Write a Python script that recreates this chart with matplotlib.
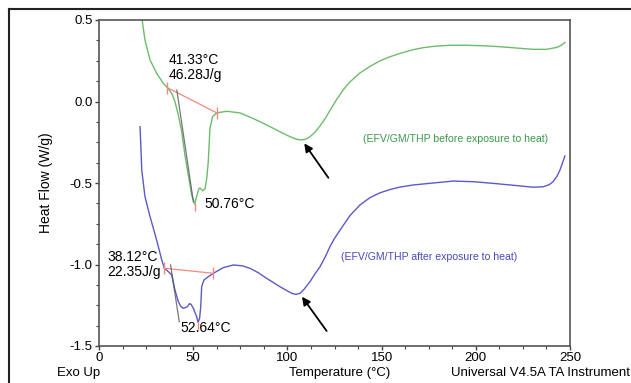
import matplotlib
matplotlib.use("Agg")
import matplotlib.pyplot as plt
from matplotlib.lines import Line2D

plt.rcParams['font.family'] = ['Liberation Sans', 'DejaVu Sans']

# ---- data ----
temp_before = [22.9, 24.4, 27.1, 30.6, 34.1, 36.3, 38.6, 40.3, 42.1, 43.9, 45.6, 47.4, 49.2,
               50.8, 51.8, 53.0, 53.6, 55.0, 56.3, 57.2, 58.0, 58.9, 60.3, 62.5, 67.8,
               74.8, 80.0, 85.5, 90.0, 94.3, 98.0, 101.4, 105.0, 107.6, 110.0, 112.0,
               114.5, 117.3, 120.0, 122.6, 126.0, 129.5, 133.2, 138.5, 143.8, 149.2,
               154.5, 159.8, 166.8, 172.0, 177.4, 186.3, 195.0, 204.0, 213.0,
               221.7, 230.4, 237.6, 243.0, 245.5, 247.3]
hf_before = [0.50, 0.377, 0.255, 0.173, 0.112, 0.085, 0.05, 0.0, -0.083, -0.185, -0.328,
             -0.451, -0.574, -0.63, -0.584, -0.535, -0.530, -0.548, -0.535, -0.47, -0.369,
             -0.164, -0.093, -0.070, -0.060, -0.070, -0.095, -0.124, -0.150, -0.175,
             -0.197, -0.216, -0.232, -0.236, -0.230, -0.216, -0.190, -0.150, -0.105,
             -0.055, 0.01, 0.07, 0.12, 0.175, 0.215, 0.250, 0.275, 0.295, 0.318, 0.330,
             0.338, 0.345, 0.345, 0.342, 0.336, 0.328, 0.32, 0.32, 0.332, 0.345, 0.363]

temp_after = [21.8, 22.7, 24.4, 27.1, 30.6, 33.3, 34.7, 36.8, 38.6, 40.3, 42.1, 43.5,
              44.8, 46.9, 48.0, 48.9, 50.1, 51.8, 52.6, 53.4, 54.0, 54.5, 55.7, 58.0,
              60.7, 66.0, 71.3, 76.0, 80.1, 84.5, 89.0, 96.0, 102.3, 104.5, 106.7, 109.0,
              112.0, 114.5, 117.3, 120.0, 122.6, 125.0, 128.0, 133.2, 138.5, 143.8,
              149.2, 154.5, 159.8, 166.8, 177.4, 188.0, 198.7, 209.0, 220.0, 230.5,
              235.8, 239.0, 241.0, 243.0, 244.7, 247.3]
hf_after = [-0.155, -0.42, -0.584, -0.707, -0.85, -0.972, -1.023, -1.044, -1.064, -1.156,
            -1.228, -1.258, -1.269, -1.259, -1.24, -1.245, -1.269, -1.32, -1.355, -1.33,
            -1.259, -1.136, -1.095, -1.075, -1.054, -1.019, -1.003, -1.008, -1.023,
            -1.050, -1.085, -1.136, -1.177, -1.183, -1.177, -1.150, -1.105, -1.060,
            -1.014, -0.955, -0.890, -0.840, -0.788, -0.700, -0.635, -0.590, -0.560,
            -0.540, -0.525, -0.512, -0.500, -0.488, -0.492, -0.502, -0.514, -0.526,
            -0.523, -0.510, -0.492, -0.460, -0.420, -0.334]

# integration baselines (start, end)
base_before_T = [36.3, 62.5]
base_before_hf = [0.085, -0.070]
base_after_T = [34.7, 60.7]
base_after_hf = [-1.023, -1.054]

# onset tangents
tan_before_T = [41.3, 50.1]
tan_before_hf = [0.07, -0.615]
tan_after_T = [38.0, 42.6]
tan_after_hf = [-1.003, -1.351]

peak_before = (50.76, -0.63)
peak_after = (52.64, -1.355)

xticks = [0, 50, 100, 150, 200, 250]
yticks = [0.5, 0.0, -0.5, -1.0, -1.5]

green = '#6dbb6d'
blue = '#5a5ac8'
red = '#f08a80'

fig = plt.figure(figsize=(6.31, 3.83), dpi=100)
ax = fig.add_axes([99/631, 37/383, 471/631, 326/383])

ax.plot(temp_before, hf_before, color=green, lw=1.0)
ax.plot(temp_after, hf_after, color=blue, lw=1.0)

for bt, bh in ((base_before_T, base_before_hf), (base_after_T, base_after_hf)):
    ax.plot(bt, bh, color=red, lw=0.9)
    ax.plot(bt, bh, ls='none', marker='|', ms=8, mew=1.0, color=red)
for tt, th in ((tan_before_T, tan_before_hf), (tan_after_T, tan_after_hf)):
    ax.plot(tt, th, color='#555555', lw=0.9, alpha=0.8)
for p in (peak_before, peak_after):
    ax.plot([p[0]], [p[1] - 0.02], ls='none', marker='|', ms=6, mew=1.0, color=red)

ax.set_xlim(0, 250)
ax.set_ylim(-1.5, 0.5)
ax.set_xticks(xticks)
ax.set_xticklabels([str(v) for v in xticks])
ax.set_yticks(yticks)
ax.set_yticklabels(['0.5', '0.0', '-0.5', '-1.0', '-1.5'])
ax.set_xticks([12.5 * i for i in range(21)], minor=True)
ax.set_yticks([-1.5 + 0.125 * i for i in range(17)], minor=True)
ax.tick_params(which='major', direction='out', length=3, width=1, labelsize=9.5,
               pad=1.5, color='#444444', top=False, right=False)
ax.tick_params(which='minor', direction='out', length=2.5, width=0.8, color='#444444',
               top=False, right=False)
for s in ax.spines.values():
    s.set_color('#555555')
    s.set_linewidth(1.2)

ax.set_ylabel('Heat Flow (W/g)', fontsize=10)
ax.yaxis.set_label_coords(-46/471, 0.5)

# annotations
ax.text(37.0, 0.12, '41.33°C\n46.28J/g', fontsize=10, ha='left', va='bottom', linespacing=1.05)
ax.text(56.0, -0.63, '50.76°C', fontsize=10, ha='left', va='center')
ax.text(4.5, -1.0, '38.12°C\n22.35J/g', fontsize=10, ha='left', va='center', linespacing=1.05)
ax.text(43.0, -1.39, '52.64°C', fontsize=10, ha='left', va='center')

ax.text(189, -0.23, '(EFV/GM/THP before exposure to heat)', fontsize=7.6,
        color='#3a9a4a', ha='center', va='center')
ax.text(175, -0.955, '(EFV/GM/THP after exposure to heat)', fontsize=7.6,
        color='#4848c0', ha='center', va='center')

ax.annotate('', xy=(108.1, -0.243), xytext=(122.6, -0.482),
            arrowprops=dict(arrowstyle='-|>', color='black', lw=1.3, mutation_scale=12))
ax.annotate('', xy=(106.9, -1.184), xytext=(121.7, -1.422),
            arrowprops=dict(arrowstyle='-|>', color='black', lw=1.3, mutation_scale=12))

# bottom texts
ytxt = 1 - 373/383
fig.text(79/631, ytxt, 'Exo Up', fontsize=9.5, ha='center', va='center')
fig.text(340/631, ytxt, 'Temperature (°C)', fontsize=9.5, ha='center', va='center')
fig.text(451/631, ytxt, 'Universal V4.5A TA Instrument', fontsize=9.5, ha='left', va='center')

# outer frame lines
fig.add_artist(Line2D([9/631, 9/631], [0, 1 - 9/383], color='#222222', lw=1.5,
                      transform=fig.transFigure))
fig.add_artist(Line2D([9/631, 1], [1 - 9/383, 1 - 9/383], color='#222222', lw=1.5,
                      transform=fig.transFigure))

fig.savefig('out.png', dpi=100)
